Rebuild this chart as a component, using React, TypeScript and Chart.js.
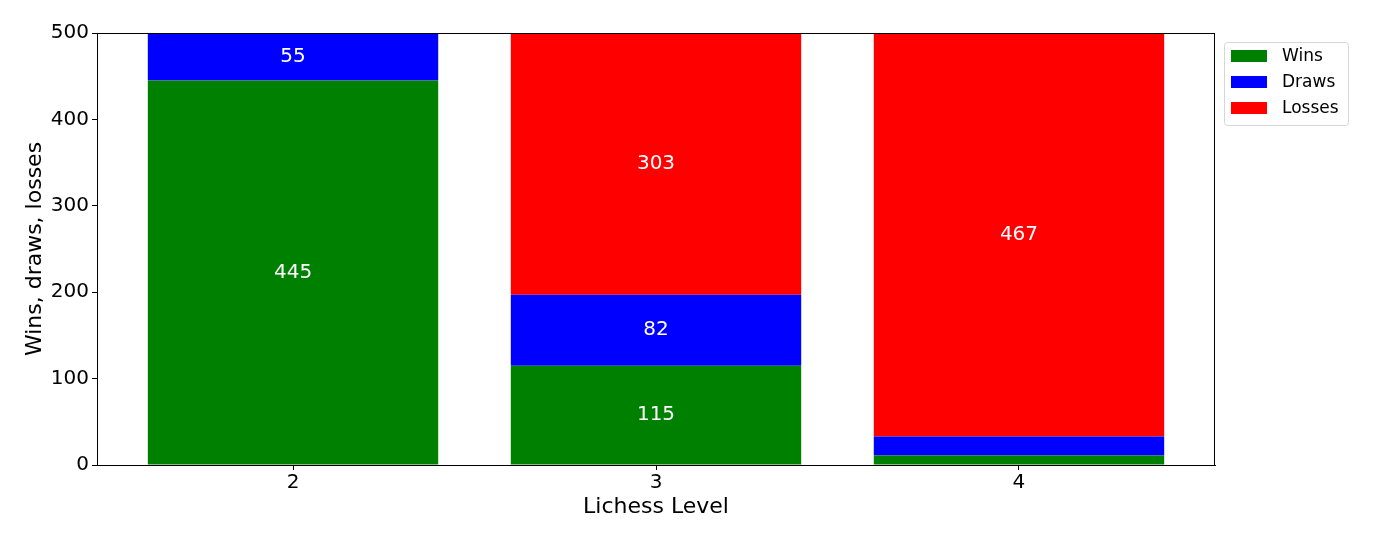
import { useEffect, useRef } from "react";
import { Chart, registerables, Plugin } from "chart.js";

Chart.register(...registerables);

const levels = [2, 3, 4];
const wins = [445, 115, 11];
const draws = [55, 82, 22];
const losses = [0, 303, 467];
const yTicks = [0, 100, 200, 300, 400, 500];

const seriesNames = ["Wins", "Draws", "Losses"];
const seriesColors = ["#008000", "#0000ff", "#ff0000"];

const FONT = "'DejaVu Sans', sans-serif";

// white counts in the middle of the segments that are tall enough
const segmentLabels: Plugin<"bar"> = {
  id: "segmentLabels",
  afterDatasetsDraw(chart) {
    const ctx = chart.ctx;
    ctx.save();
    ctx.fillStyle = "#ffffff";
    ctx.font = `20px ${FONT}`;
    ctx.textAlign = "center";
    ctx.textBaseline = "middle";
    chart.data.datasets.forEach((ds, i) => {
      const meta = chart.getDatasetMeta(i);
      meta.data.forEach((bar: any, j) => {
        const v = (ds.data[j] as any).y;
        if (v < 50) return;
        ctx.fillText(String(v), bar.x, (bar.y + bar.base) / 2);
      });
    });
    ctx.restore();
  },
};

// black frame round the plot, like matplotlib spines
const frame: Plugin<"bar"> = {
  id: "frame",
  afterDatasetsDraw(chart) {
    const { left, top, right, bottom } = chart.chartArea;
    const ctx = chart.ctx;
    ctx.save();
    ctx.strokeStyle = "#000";
    ctx.lineWidth = 1;
    ctx.strokeRect(left + 0.5, top + 0.5, right - left - 1, bottom - top);
    ctx.restore();
  },
};

const boxLegend: Plugin<"bar"> = {
  id: "boxLegend",
  afterDraw(chart) {
    const ctx = chart.ctx;
    const x0 = chart.chartArea.right + 9;
    const y0 = chart.chartArea.top + 9;
    const w = 124;
    const h = 83;
    ctx.save();
    ctx.fillStyle = "rgba(255,255,255,0.8)";
    ctx.strokeStyle = "#d6d6d6";
    ctx.lineWidth = 1;
    ctx.beginPath();
    ctx.roundRect(x0 + 0.5, y0 + 0.5, w, h, 3);
    ctx.fill();
    ctx.stroke();
    ctx.font = `17px ${FONT}`;
    ctx.textBaseline = "middle";
    seriesNames.forEach((name, i) => {
      const cy = y0 + 14 + i * 26;
      ctx.fillStyle = seriesColors[i];
      ctx.fillRect(x0 + 7, cy - 6, 36, 12);
      ctx.fillStyle = "#000";
      ctx.fillText(name, x0 + 58, cy + 1);
    });
    ctx.restore();
  },
};

export default function App() {
  const canvasRef = useRef<HTMLCanvasElement>(null);

  useEffect(() => {
    if (!canvasRef.current) return;
    const series = [wins, draws, losses];
    const chart = new Chart(canvasRef.current, {
      type: "bar",
      data: {
        datasets: series.map((vals, i) => ({
          label: seriesNames[i],
          data: levels.map((lv, j) => ({ x: lv, y: vals[j] })),
          backgroundColor: seriesColors[i],
          borderWidth: 0,
          barPercentage: 0.8,
          categoryPercentage: 1,
        })),
      },
      options: {
        animation: false,
        responsive: true,
        maintainAspectRatio: false,
        layout: { padding: { left: 0, top: 33, right: 158, bottom: 0 } },
        plugins: {
          legend: { display: false },
          tooltip: { enabled: false },
        },
        scales: {
          x: {
            type: "linear",
            stacked: true,
            offset: false,
            min: 1.46,
            max: 4.54,
            afterBuildTicks: (s) => {
              s.ticks = levels.map((v) => ({ value: v }));
            },
            afterFit: (s) => {
              s.height = 78;
            },
            grid: {
              offset: false,
              drawOnChartArea: false,
              drawTicks: true,
              tickLength: 5,
              color: "#000",
            },
            border: { display: true, color: "#000" },
            ticks: {
              color: "#000",
              font: { family: FONT, size: 20 },
              padding: 1,
              callback: (v) => String(v),
            },
            title: {
              display: true,
              text: "Lichess Level",
              color: "#000",
              font: { family: FONT, size: 22 },
              padding: { top: 0, bottom: 23 },
            },
          },
          y: {
            stacked: true,
            min: 0,
            max: 500,
            afterBuildTicks: (s) => {
              s.ticks = yTicks.map((v) => ({ value: v }));
            },
            afterFit: (s) => {
              s.width = 97;
            },
            grid: {
              drawOnChartArea: false,
              drawTicks: true,
              tickLength: 5,
              color: "#000",
            },
            border: { display: true, color: "#000" },
            ticks: {
              color: "#000",
              font: { family: FONT, size: 20 },
              padding: 3,
            },
            title: {
              display: true,
              text: "Wins, draws, losses",
              color: "#000",
              font: { family: FONT, size: 22 },
              padding: { top: 22, bottom: 0 },
            },
          },
        },
      },
      plugins: [segmentLabels, frame, boxLegend],
    });
    return () => chart.destroy();
  }, []);

  return (
    <div
      style={{
        position: "absolute",
        left: 0,
        top: 0,
        width: 1373,
        height: 543,
        background: "#fff",
      }}
    >
      <canvas ref={canvasRef} />
    </div>
  );
}
